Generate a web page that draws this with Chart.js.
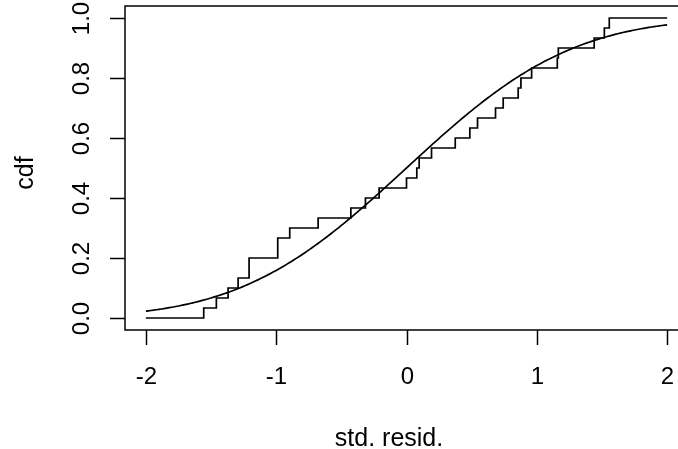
<!DOCTYPE html>
<html>
<head>
<meta charset="utf-8">
<script src="https://cdn.jsdelivr.net/npm/chart.js@4/dist/chart.umd.min.js"></script>
<style>
  html, body { margin: 0; padding: 0; background: #fff; overflow: hidden; }
  #wrap { width: 700px; height: 449px; }
</style>
</head>
<body>
<div id="wrap"><canvas id="c" width="700" height="449"></canvas></div>
<script>
// Sorted standardized residuals (30 observations; ties appear twice)
const residuals = [
  -1.556, -1.459, -1.369, -1.292, -1.208, -1.208, -0.988, -0.988, -0.896, -0.678,
  -0.427, -0.315, -0.210, 0.000, 0.079, 0.097, 0.192, 0.374, 0.486, 0.545,
  0.683, 0.742, 0.857, 0.878, 0.960, 1.157, 1.165, 1.440, 1.518, 1.556
];
// Reference normal distribution
const refMean = 0;
const refSd = 1;
// Plot range and axis ticks
const xRange = [-2, 2];
const xTicks = [-2, -1, 0, 1, 2];
const yTicks = [0.0, 0.2, 0.4, 0.6, 0.8, 1.0];
const yTickLabels = ['0.0', '0.2', '0.4', '0.6', '0.8', '1.0'];
const xTitle = 'std. resid.';
const yTitle = 'cdf';

// Empirical CDF as step points
const n = residuals.length;
const ecdfPoints = [{ x: xRange[0], y: 0 }];
residuals.forEach((r, i) => ecdfPoints.push({ x: r, y: (i + 1) / n }));
ecdfPoints.push({ x: xRange[1], y: 1 });

// Normal CDF
function erf(z) {
  const s = z < 0 ? -1 : 1;
  z = Math.abs(z);
  const t = 1 / (1 + 0.3275911 * z);
  const y = 1 - (((((1.061405429 * t - 1.453152027) * t) + 1.421413741) * t - 0.284496736) * t + 0.254829592) * t * Math.exp(-z * z);
  return s * y;
}
function pnorm(x) { return 0.5 * (1 + erf((x - refMean) / (refSd * Math.SQRT2))); }
const curvePoints = [];
for (let k = 0; k <= 200; k++) {
  const x = xRange[0] + (xRange[1] - xRange[0]) * k / 200;
  curvePoints.push({ x: x, y: pnorm(x) });
}

const FONT = '24px "Liberation Sans", Arial, Helvetica, sans-serif';
const TITLE_FONT = '25px "Liberation Sans", Arial, Helvetica, sans-serif';

// Base-graphics style frame, ticks and labels
const framePlugin = {
  id: 'frame',
  afterDraw(chart) {
    const { ctx, chartArea: a, scales } = chart;
    const xs = scales.x, ys = scales.y;
    ctx.save();
    ctx.strokeStyle = '#000';
    ctx.fillStyle = '#000';
    ctx.lineWidth = 1.5;
    ctx.strokeRect(a.left, a.top, a.right - a.left, a.bottom - a.top);
    ctx.font = FONT;
    ctx.textAlign = 'center';
    ctx.textBaseline = 'alphabetic';
    xTicks.forEach(v => {
      const px = Math.round(xs.getPixelForValue(v)) + 0.5;
      ctx.beginPath();
      ctx.moveTo(px, a.bottom);
      ctx.lineTo(px, a.bottom + 15);
      ctx.stroke();
      ctx.fillText(String(v), px, 384);
    });
    yTicks.forEach((v, i) => {
      const py = Math.round(ys.getPixelForValue(v)) + 0.5;
      ctx.beginPath();
      ctx.moveTo(a.left, py);
      ctx.lineTo(a.left - 15, py);
      ctx.stroke();
      ctx.save();
      ctx.translate(89, py);
      ctx.rotate(-Math.PI / 2);
      ctx.fillText(yTickLabels[i], 0, 0);
      ctx.restore();
    });
    ctx.font = TITLE_FONT;
    ctx.fillText(xTitle, 389, 446);
    ctx.save();
    ctx.translate(33, 173);
    ctx.rotate(-Math.PI / 2);
    ctx.fillText(yTitle, 0, 0);
    ctx.restore();
    ctx.restore();
  }
};

new Chart(document.getElementById('c'), {
  type: 'scatter',
  data: {
    datasets: [
      {
        data: ecdfPoints,
        showLine: true,
        stepped: true,
        borderColor: '#000',
        borderWidth: 1.7,
        pointRadius: 0,
        fill: false
      },
      {
        data: curvePoints,
        showLine: true,
        borderColor: '#000',
        borderWidth: 1.7,
        pointRadius: 0,
        tension: 0,
        fill: false
      }
    ]
  },
  options: {
    responsive: false,
    animation: false,
    devicePixelRatio: 1,
    layout: { padding: { left: 125, top: 6, right: 12, bottom: 119 } },
    plugins: { legend: { display: false }, tooltip: { enabled: false } },
    scales: {
      x: { type: 'linear', display: false, min: -2.16, max: 2.16 },
      y: { type: 'linear', display: false, min: -0.04, max: 1.04 }
    }
  },
  plugins: [framePlugin]
});
</script>
</body>
</html>
